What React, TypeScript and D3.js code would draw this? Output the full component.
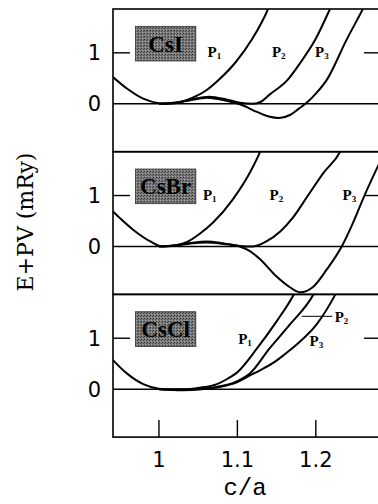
import React from "react";
import * as d3 from "d3";

// c/a vs E+PV (mRy), three compounds, three pressures each
const compounds = ["CsI", "CsBr", "CsCl"];
const pressureLabels = ["1", "2", "3"];
const xTicks = [1, 1.1, 1.2];
const yTicks = [0, 1];

const csiP1 = [[0.941, 0.53], [0.96, 0.29], [0.98, 0.1], [1.0, 0.01], [1.01, 0], [1.027, 0.03], [1.043, 0.12], [1.061, 0.27], [1.077, 0.48], [1.098, 0.82], [1.118, 1.25], [1.139, 1.86], [1.145, 2.1]];
const csiP2 = [[1.0, 0], [1.02, 0.02], [1.04, 0.08], [1.064, 0.14], [1.085, 0.09], [1.103, 0.02], [1.12, 0], [1.13, 0.04], [1.141, 0.18], [1.164, 0.47], [1.18, 0.8], [1.199, 1.25], [1.218, 1.86], [1.225, 2.1]];
const csiP3 = [[1.0, 0], [1.02, 0.02], [1.04, 0.07], [1.062, 0.12], [1.08, 0.08], [1.105, -0.02], [1.125, -0.16], [1.14, -0.25], [1.153, -0.28], [1.167, -0.22], [1.178, -0.1], [1.189, 0.03], [1.2, 0.2], [1.214, 0.47], [1.239, 1.25], [1.26, 1.86], [1.268, 2.1]];

const csbrP1 = [[0.941, 0.69], [0.967, 0.33], [0.989, 0.1], [1.005, 0], [1.02, 0.02], [1.036, 0.09], [1.052, 0.25], [1.069, 0.47], [1.094, 0.92], [1.116, 1.45], [1.129, 1.86], [1.135, 2.1]];
const csbrP2 = [[1.0, 0], [1.02, 0.02], [1.04, 0.07], [1.061, 0.1], [1.083, 0.06], [1.103, 0.01], [1.12, 0], [1.137, 0.1], [1.155, 0.3], [1.17, 0.55], [1.19, 1.0], [1.21, 1.45], [1.231, 1.86], [1.238, 2.1]];
const csbrP3 = [[1.0, 0], [1.02, 0.02], [1.04, 0.06], [1.06, 0.08], [1.083, 0.05], [1.103, 0], [1.115, -0.08], [1.129, -0.25], [1.15, -0.59], [1.167, -0.8], [1.18, -0.9], [1.196, -0.8], [1.214, -0.45], [1.233, 0], [1.247, 0.45], [1.262, 1.0], [1.283, 1.7]];

const csclP1 = [[0.939, 0.61], [0.959, 0.31], [0.98, 0.1], [1.0, 0.01], [1.012, 0], [1.03, 0], [1.052, 0.03], [1.074, 0.1], [1.087, 0.2], [1.099, 0.32], [1.125, 0.8], [1.15, 1.33], [1.172, 1.86], [1.18, 2.1]];
const csclP2 = [[1.0, 0], [1.03, -0.01], [1.055, 0.01], [1.075, 0.05], [1.094, 0.12], [1.105, 0.2], [1.116, 0.31], [1.141, 0.8], [1.167, 1.27], [1.197, 1.86], [1.205, 2.1]];
const csclP3 = [[1.0, 0], [1.03, -0.02], [1.055, 0], [1.08, 0.05], [1.1, 0.14], [1.116, 0.27], [1.13, 0.38], [1.145, 0.51], [1.16, 0.68], [1.176, 0.88], [1.201, 1.27], [1.225, 1.86], [1.233, 2.1]];

const series = [
  [csiP1, csiP2, csiP3],
  [csbrP1, csbrP2, csbrP3],
  [csclP1, csclP2, csclP3],
];

// label anchors (c/a, mRy) per panel, one per pressure
const labelAt = [
  [[1.062, 0.92], [1.144, 0.92], [1.199, 0.92]],
  [[1.056, 0.92], [1.141, 0.92], [1.234, 0.92]],
  [[1.101, 0.88], [1.224, 1.32], [1.192, 0.84]],
];

const W = 378, H = 504;
const left = 113, right = 381;
const top0 = 9, panelH = 142.7;

export default function App() {
  const x = d3.scaleLinear().domain([0.9414, 1.2831]).range([left, right]);
  const bottom = top0 + 3 * panelH;

  return (
    <svg width={W} height={H} style={{ position: "absolute", left: 0, top: 0, background: "#fff" }}>
      <defs>
        <pattern id="stip" width="3" height="3" patternUnits="userSpaceOnUse">
          <rect width="3" height="3" fill="#7a7a7a" />
          <rect x="0" y="0" width="1" height="1" fill="#333" />
          <rect x="2" y="1" width="1" height="1" fill="#4a4a4a" />
          <rect x="1" y="2" width="1" height="1" fill="#a5a5a5" />
        </pattern>
        {compounds.map((c, i) => (
          <clipPath id={"clip" + i} key={c}>
            <rect x={left} y={top0 + i * panelH} width={right - left} height={panelH} />
          </clipPath>
        ))}
      </defs>

      {compounds.map((name, i) => {
        const t = top0 + i * panelH;
        const y = d3.scaleLinear().domain([-0.94, 1.86]).range([t + panelH, t]);
        const line = d3.line<number[]>()
          .x(d => x(d[0]))
          .y(d => y(d[1]))
          .curve(d3.curveMonotoneX);
        return (
          <g key={name}>
            <rect x={left} y={t} width={right - left} height={panelH} fill="none" stroke="#000" strokeWidth={1.6} />
            <line x1={left} x2={right} y1={y(0)} y2={y(0)} stroke="#000" strokeWidth={1.4} />
            <line x1={left} x2={left + 17} y1={y(1)} y2={y(1)} stroke="#000" strokeWidth={1.4} />
            <line x1={right - 17} x2={right} y1={y(1)} y2={y(1)} stroke="#000" strokeWidth={1.4} />
            {yTicks.map(v => (
              <text key={v} x={101} y={y(v)} dy="0.36em" textAnchor="end"
                fontFamily="DejaVu Sans" fontSize={21}>{v}</text>
            ))}
            <g clipPath={`url(#clip${i})`}>
              {series[i].map((s, k) => (
                <path key={k} d={line(s) || ""} fill="none" stroke="#000" strokeWidth={2} />
              ))}
            </g>
            <rect x={x(0.97)} y={y(1.52)} width={x(1.047) - x(0.97)} height={y(0.84) - y(1.52)}
              fill="url(#stip)" stroke="#333" strokeWidth={0.8} />
            <text x={(x(0.97) + x(1.047)) / 2} y={(y(1.52) + y(0.84)) / 2} dy="0.35em" textAnchor="middle"
              fontFamily="Liberation Serif" fontWeight="bold" fontSize={23} fill="#000">{name}</text>
            {pressureLabels.map((p, k) => (
              <text key={p} x={x(labelAt[i][k][0])} y={y(labelAt[i][k][1])}
                fontFamily="Liberation Serif" fontWeight="bold" fontSize={15}>
                P<tspan fontSize={9} dy="2">{p}</tspan>
              </text>
            ))}
            {i === 2 && (
              <line x1={x(1.182)} x2={x(1.221)} y1={y(1.43)} y2={y(1.43)} stroke="#000" strokeWidth={1} />
            )}
          </g>
        );
      })}

      {xTicks.map(v => (
        <g key={v}>
          <line x1={x(v)} x2={x(v)} y1={bottom} y2={bottom - 17} stroke="#000" strokeWidth={1.4} />
          <text x={x(v)} y={467} textAnchor="middle" fontFamily="DejaVu Sans" fontSize={21}>{v}</text>
        </g>
      ))}

      <text x={245} y={495} textAnchor="middle" fontFamily="Liberation Mono" fontSize={24}>c/a</text>
      <text transform="translate(33,222) rotate(-90)" textAnchor="middle"
        fontFamily="DejaVu Serif" fontSize={22}>E+PV (mRy)</text>
    </svg>
  );
}
